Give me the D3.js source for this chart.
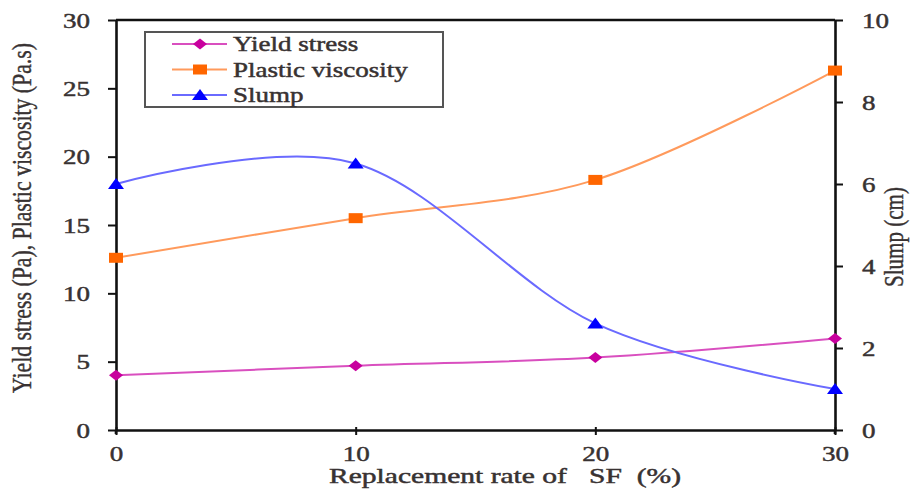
<!DOCTYPE html>
<html>
<head>
<meta charset="utf-8">
<script src="https://cdn.jsdelivr.net/npm/d3@7"></script>
<style>
  html, body { margin: 0; padding: 0; background: #fff; }
  svg { display: block; }
</style>
</head>
<body>
<svg id="chart" width="913" height="494"></svg>
<script>
// Replacement rate of silica fume (%)
const rates = [0, 10, 20, 30];
// Left axis series
const yieldStress = [4.0, 4.7, 5.3, 6.7];          // Pa
const plasticViscosity = [12.6, 15.5, 18.3, 26.3]; // Pa.s
// Right axis series
const slump = [6.0, 6.5, 2.6, 1.0];                // cm

const xTicks = [0, 10, 20, 30];
const leftTicks = [0, 5, 10, 15, 20, 25, 30];
const rightTicks = [0, 2, 4, 6, 8, 10];

const seriesNames = ["Yield stress", "Plastic viscosity", "Slump"];

const FONT = "'Liberation Serif', 'Times New Roman', serif";
const INK = "#383232";
const WIDEN = 1.35; // horizontal stretch of the lettering

const svg = d3.select("#chart");

const x = d3.scaleLinear().domain([0, 30]).range([116, 835]);
const yL = d3.scaleLinear().domain([0, 30]).range([430, 20]);
const yR = d3.scaleLinear().domain([0, 10]).range([430, 20]);

const series = [
  { name: seriesNames[0], values: yieldStress, y: yL, line: "#d94fbf", fill: "#c8009e", shape: "diamond" },
  { name: seriesNames[1], values: plasticViscosity, y: yL, line: "#ff9a5c", fill: "#ff6600", shape: "square" },
  { name: seriesNames[2], values: slump, y: yR, line: "#6a6aff", fill: "#0000ff", shape: "triangle" }
];

function styleText(sel, size) {
  sel.style("font-family", FONT)
    .style("font-size", size + "px")
    .style("font-weight", "normal")
    .attr("fill", INK)
    .attr("stroke", INK)
    .attr("stroke-width", 0.45);
}
// move a text's x/y into a transform and widen it around its anchor
function widen(sel) {
  sel.each(function () {
    const t = d3.select(this);
    const tx = +t.attr("x") || 0, ty = +t.attr("y") || 0;
    t.attr("x", 0).attr("y", 0)
      .attr("transform", `translate(${tx},${ty}) scale(${WIDEN},1)`);
  });
}

// marker path centred on (0,0), w wide and h tall
function markerPath(shape, w, h) {
  const a = w / 2, b = h / 2;
  if (shape === "diamond") return `M${-a},0L0,${-b}L${a},0L0,${b}Z`;
  if (shape === "square") return `M${-a},${-b}H${a}V${b}H${-a}Z`;
  return `M0,${-b - 1}L${a},${b}H${-a}Z`;
}
const markerW = s => s.shape === "triangle" ? 16 : 14;
const markerH = s => s.shape === "diamond" ? 11 : 10;

// top frame line
svg.append("line")
  .attr("x1", x(0)).attr("x2", x(30))
  .attr("y1", yL(30)).attr("y2", yL(30))
  .attr("stroke", "#111").attr("stroke-width", 2.6);

// axes
const gL = svg.append("g").attr("transform", `translate(${x(0)},0)`)
  .call(d3.axisLeft(yL).tickValues(leftTicks).tickSize(8).tickPadding(18).tickSizeOuter(0));
const gR = svg.append("g").attr("transform", `translate(${x(30)},0)`)
  .call(d3.axisRight(yR).tickValues(rightTicks).tickSize(8).tickPadding(19).tickSizeOuter(0));
const gB = svg.append("g").attr("transform", `translate(0,${yL(0)})`)
  .call(d3.axisBottom(x).tickValues(xTicks).tickSize(5).tickSizeOuter(0));

[gL, gR, gB].forEach(g => {
  g.select(".domain").attr("stroke", "#111").attr("stroke-width", 2.6);
  g.selectAll(".tick line").attr("stroke", "#111").attr("stroke-width", 2);
  g.selectAll(".tick text").call(styleText, 20).attr("dy", null);
});
gB.selectAll(".tick line").attr("y1", -3);
gB.selectAll(".tick text").attr("y", 31);
gL.selectAll(".tick text").attr("y", 7);
gR.selectAll(".tick text").attr("y", 7);
[gL, gR, gB].forEach(g => g.selectAll(".tick text").call(widen));

// axis lines run a little past the bottom line
[x(0), x(30)].forEach(px => {
  svg.append("line").attr("x1", px).attr("x2", px)
    .attr("y1", yL(0)).attr("y2", yL(0) + 4)
    .attr("stroke", "#111").attr("stroke-width", 2.6);
});

// smoothed series lines
series.forEach(s => {
  const line = d3.line()
    .x((d, i) => x(rates[i]))
    .y(d => s.y(d))
    .curve(d3.curveCardinal.tension(0));
  svg.append("path")
    .datum(s.values)
    .attr("d", line)
    .attr("fill", "none")
    .attr("stroke", s.line)
    .attr("stroke-width", 2);
});
// markers
series.forEach(s => {
  svg.append("g").selectAll("path")
    .data(s.values)
    .join("path")
    .attr("transform", (d, i) => `translate(${x(rates[i])},${s.y(d)})`)
    .attr("d", markerPath(s.shape, markerW(s), markerH(s)))
    .attr("fill", s.fill);
});

// legend
const lg = svg.append("g");
lg.append("rect")
  .attr("x", 145).attr("y", 32).attr("width", 298).attr("height", 75)
  .attr("fill", "#fff").attr("stroke", "#555").attr("stroke-width", 2);
series.forEach((s, i) => {
  const yy = 44 + i * 25.5;
  lg.append("line").attr("x1", 172).attr("x2", 227).attr("y1", yy).attr("y2", yy)
    .attr("stroke", s.line).attr("stroke-width", 2);
  lg.append("path").attr("transform", `translate(200,${yy})`)
    .attr("d", markerPath(s.shape, markerW(s), markerH(s)))
    .attr("fill", s.fill);
  lg.append("text").attr("x", 233).attr("y", yy + 7)
    .call(styleText, 20)
    .text(s.name)
    .call(widen);
});

// axis titles
svg.append("text")
  .attr("transform", `translate(31,218) scale(${WIDEN},1) rotate(-90)`)
  .attr("text-anchor", "middle")
  .attr("textLength", 350).attr("lengthAdjust", "spacingAndGlyphs")
  .call(styleText, 20)
  .attr("stroke-width", 0.3)
  .text("Yield stress (Pa), Plastic viscosity  (Pa.s)");
svg.append("text")
  .attr("transform", `translate(903,237) scale(${WIDEN},1) rotate(-90)`)
  .attr("text-anchor", "middle")
  .attr("textLength", 100).attr("lengthAdjust", "spacingAndGlyphs")
  .call(styleText, 20)
  .attr("stroke-width", 0.3)
  .text("Slump (cm)");
svg.append("text")
  .attr("x", 505).attr("y", 483)
  .attr("text-anchor", "middle")
  .style("white-space", "pre")
  .call(styleText, 20)
  .attr("textLength", 352 / WIDEN).attr("lengthAdjust", "spacingAndGlyphs")
  .text("Replacement rate of   SF  (%)")
  .call(widen);
</script>
</body>
</html>
